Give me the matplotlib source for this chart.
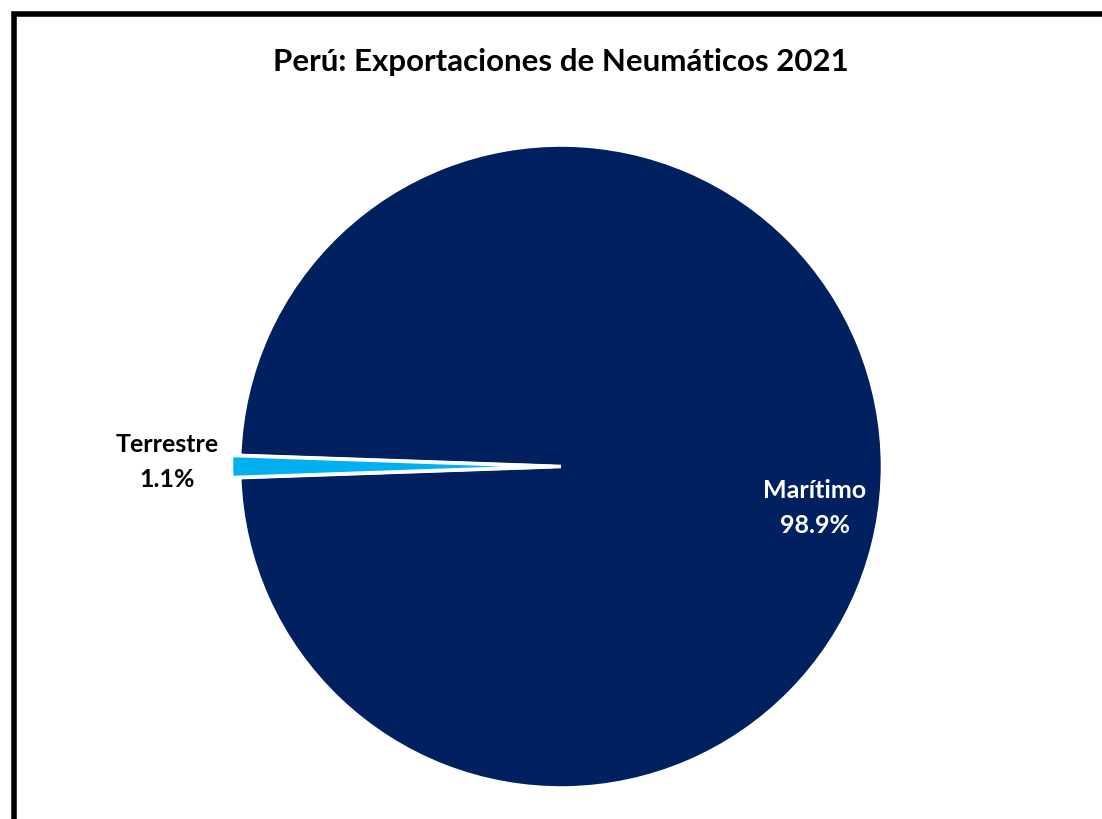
import matplotlib.pyplot as plt
from matplotlib.patches import Rectangle

title = 'Perú: Exportaciones de Neumáticos 2021'
labels = ['Marítimo', 'Terrestre']
shares = [98.9, 1.1]
colors = ['#002060', '#00B0F0']

W, H = 1102, 820
fig = plt.figure(figsize=(W / 100, H / 100), dpi=100)
ax = fig.add_axes([0, 0, 1, 1])
ax.set_xlim(0, W)
ax.set_ylim(0, H)
ax.set_aspect('equal')
ax.axis('off')

# put the small slice on the left side
start = 180 - (360 - shares[1] * 3.6 / 2) + 360
cx, cy, r = 561, H - 467.5, 321.5
wedges, _ = ax.pie(shares, colors=colors, startangle=start, center=(cx, cy),
                   radius=r, explode=[0, 8],
                   wedgeprops=dict(edgecolor='white', linewidth=2.6))
ax.set_xlim(0, W)
ax.set_ylim(0, H)

# outer frame (runs off the right and bottom)
ax.add_patch(Rectangle((14, -20), W + 20, H - 14 + 20 - 1, fill=False,
                       edgecolor='black', linewidth=4, zorder=5))

font = 'Lato'
ax.text(cx, H - 62, title, ha='center', va='center', fontsize=22.5,
        fontweight='bold', family=font)
ax.text(167, H - 462, '%s\n%.1f%%' % (labels[1], shares[1]), ha='center',
        va='center', fontsize=18, fontweight='bold', family=font,
        linespacing=1.6, color='black')
ax.text(815, H - 508, '%s\n%.1f%%' % (labels[0], shares[0]), ha='center',
        va='center', fontsize=18, fontweight='bold', family=font,
        linespacing=1.6, color='white')

fig.savefig('out.png', dpi=100, facecolor='white')
